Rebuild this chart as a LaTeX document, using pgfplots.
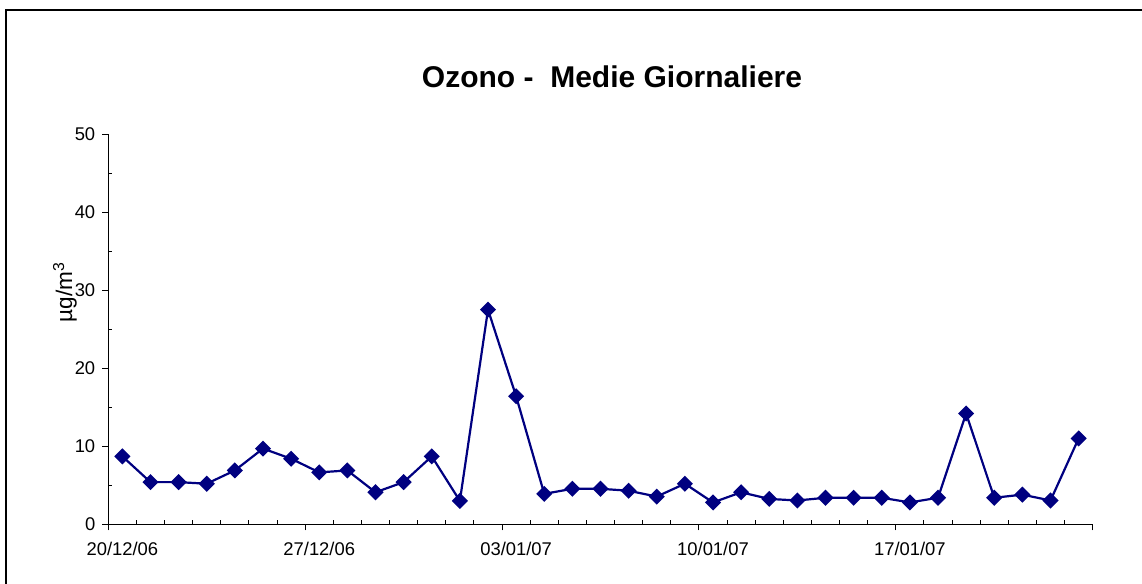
\documentclass[border=0pt]{standalone}
\usepackage{fontspec}
\setmainfont{Liberation Sans}
\usepackage{pgfplots}
\pgfplotsset{compat=1.18}
\definecolor{excelnavy}{RGB}{0,0,128}

\begin{document}
\begin{tikzpicture}
% page = 1142 x 584 px at 0.5pt per px
\useasboundingbox (0,0) rectangle (571pt,292pt);
\draw[line width=0.7pt] (3pt,287pt) rectangle (580pt,-10pt);
\node[font=\fontsize{15}{17}\selectfont\bfseries] at (306pt,253.5pt) {Ozono -\ \ Medie Giornaliere};
\node[rotate=90,font=\fontsize{11.3}{13}\selectfont] at (32.5pt,146pt) {µg/m\textsuperscript{3}};
\begin{axis}[
  at={(54.15pt,29.85pt)}, anchor=south west,
  scale only axis,
  width=492.2pt, height=195.15pt,
  xmin=0, xmax=35, ymin=0, ymax=50,
  axis lines*=left,
  axis line style={line width=0.5pt},
  xtick={0,7,14,21,28,35},
  xticklabels={20/12/06,27/12/06,03/01/07,10/01/07,17/01/07,{}},
  xticklabel style={xshift=7.03pt, yshift=-2.5pt},
  ytick={0,10,...,50},
  extra x ticks={1,2,3,4,5,6,8,9,10,11,12,13,15,16,17,18,19,20,22,23,24,25,26,27,29,30,31,32,33,34},
  extra x tick labels={},
  extra y ticks={5,15,25,35,45},
  extra y tick labels={},
  extra tick style={tick align=inside, major tick length=2pt},
  tick align=outside,
  major tick length=3pt,
  tick style={black, line width=0.5pt},
  ticklabel style={font=\fontsize{9.2}{11}\selectfont},
  /pgf/number format/assume math mode=true,
  clip=false,
]
\addplot[excelnavy, line width=1.1pt, mark=square*, mark size=2.3pt,
  mark options={rotate=45, solid, fill=excelnavy}] coordinates {
  (0.5,8.7) (1.5,5.4) (2.5,5.4) (3.5,5.2) (4.5,6.9) (5.5,9.7) (6.5,8.4)
  (7.5,6.65) (8.5,6.9) (9.5,4.1) (10.5,5.4) (11.5,8.7) (12.5,3.0) (13.5,27.5)
  (14.5,16.4) (15.5,3.9) (16.5,4.55) (17.5,4.55) (18.5,4.3) (19.5,3.55) (20.5,5.2)
  (21.5,2.8) (22.5,4.1) (23.5,3.25) (24.5,3.05) (25.5,3.4) (26.5,3.4) (27.5,3.4)
  (28.5,2.8) (29.5,3.4) (30.5,14.2) (31.5,3.4) (32.5,3.8) (33.5,3.05) (34.5,11.0)
};
\end{axis}
\end{tikzpicture}
\end{document}
